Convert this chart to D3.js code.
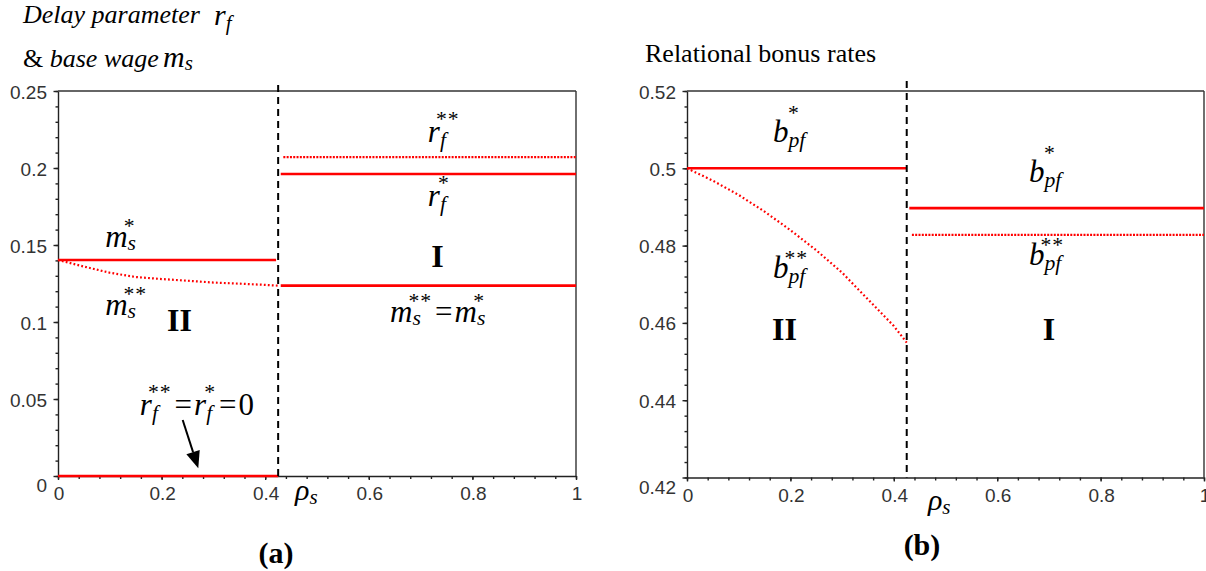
<!DOCTYPE html>
<html><head><meta charset="utf-8">
<script src="https://cdn.jsdelivr.net/npm/d3@7"></script>
<style>body{margin:0;background:#fff} svg{display:block}</style>
</head><body>
<svg id="chart" width="1206" height="571"></svg>
<script>
// ---------------- DATA ----------------
const rhoCrit = 0.425;                       // regime boundary (dashed line)
const xTicks  = [0, 0.2, 0.4, 0.6, 0.8, 1];
const yTicksA = [0, 0.05, 0.1, 0.15, 0.2, 0.25];
const yTicksB = [0.42, 0.44, 0.46, 0.48, 0.5, 0.52];
const xTickLabels  = ["0", "0.2", "0.4", "0.6", "0.8", "1"];
const yTickLabelsA = ["0", "0.05", "0.1", "0.15", "0.2", "0.25"];
const yTickLabelsB = ["0.42", "0.44", "0.46", "0.48", "0.5", "0.52"];

// region II curves (rho_s from 0 to rhoCrit)
const rhoCurve      = [0, 0.05, 0.1, 0.15, 0.2, 0.25, 0.3, 0.35, 0.4, 0.425];
const msStarStarII  = [0.1403, 0.1360, 0.1320, 0.1292, 0.1279, 0.1268, 0.1256, 0.1249, 0.1241, 0.1236];
const bStarStarII   = [0.5, 0.4968, 0.4931, 0.4888, 0.4840, 0.4788, 0.4730, 0.4661, 0.4592, 0.4549];

// constant levels
const msStarII    = 0.1403;   // m_s*  in region II
const rfII        = 0;        // r_f** = r_f* = 0 in region II
const msI         = 0.1236;   // m_s** = m_s* in region I
const rfStarI     = 0.1961;   // r_f*  in region I
const rfStarStarI = 0.2070;   // r_f** in region I
const bStarII     = 0.5;      // b_pf* in region II
const bStarI      = 0.4897;   // b_pf* in region I
const bStarStarI  = 0.4828;   // b_pf** in region I

// ---------------- DRAWING ----------------
const svg = d3.select("#chart");
const serif = "'Liberation Serif','Times New Roman',Times,serif";
const sans  = "'Liberation Sans',Arial,Helvetica,sans-serif";
const RED = "#ff0000";

function makePanel(cfg) {
  const g = svg.append("g");
  const x = d3.scaleLinear().domain([0, 1]).range([cfg.x0, cfg.x1]);
  const y = d3.scaleLinear().domain(cfg.yDomain).range([cfg.yBottom, cfg.yTop]);

  const ya = g.append("g").attr("transform", `translate(${cfg.x0},0)`);
  ya.call(d3.axisLeft(y).tickValues(cfg.yMinor).tickSize(2.5).tickFormat("").tickSizeOuter(0));
  ya.append("g").call(d3.axisLeft(y).tickValues(cfg.yTicks).tickSize(4.5).tickFormat("").tickSizeOuter(0))
    .select(".domain").remove();
  const xa = g.append("g").attr("transform", `translate(0,${cfg.yBottom})`);
  xa.call(d3.axisBottom(x).tickValues(cfg.xMinor).tickSize(3).tickFormat("").tickSizeOuter(0));
  xa.append("g").call(d3.axisBottom(x).tickValues(xTicks).tickSize(4).tickFormat("").tickSizeOuter(0))
    .select(".domain").remove();
  g.selectAll(".domain, .tick line").attr("stroke", "#222").attr("stroke-width", 1.4);

  g.append("line").attr("x1", cfg.x0).attr("x2", cfg.x1).attr("y1", cfg.yTop).attr("y2", cfg.yTop)
    .attr("stroke", "#333").attr("stroke-width", 1.4);
  g.append("line").attr("x1", cfg.x1).attr("x2", cfg.x1).attr("y1", cfg.yTop).attr("y2", cfg.yBottom)
    .attr("stroke", "#333").attr("stroke-width", 1.4);

  g.selectAll("text.yl").data(cfg.yTicks).enter().append("text")
    .attr("x", cfg.x0 - 11)
    .attr("y", (d, i) => y(d) + (i === 0 ? 16 : 7.5))
    .attr("text-anchor", "end").attr("font-family", sans).attr("font-size", 19).attr("fill", "#333")
    .text((d, i) => cfg.yLabels[i]);
  g.selectAll("text.xl").data(xTicks).enter().append("text")
    .attr("x", d => x(d) + 1).attr("y", cfg.yBottom + 24)
    .attr("text-anchor", "middle").attr("font-family", sans).attr("font-size", 19).attr("fill", "#333")
    .text((d, i) => xTickLabels[i]);

  return { g, x, y, cfg };
}

const line = (p) => d3.line().x(d => p.x(d[0])).y(d => p.y(d[1]));

function solid(p, pts) {
  p.g.append("path").attr("d", line(p)(pts)).attr("fill", "none")
    .attr("stroke", RED).attr("stroke-width", 2.6);
}
function dotted(p, pts, dash) {
  p.g.append("path").attr("d", line(p)(pts)).attr("fill", "none")
    .attr("stroke", RED).attr("stroke-width", 2.2).attr("stroke-dasharray", dash || "2,1.3");
}
function dashedV(p, top) {
  p.g.append("line").attr("x1", p.x(rhoCrit)).attr("x2", p.x(rhoCrit))
    .attr("y1", top).attr("y2", p.cfg.yBottom)
    .attr("stroke", "#000").attr("stroke-width", 2).attr("stroke-dasharray", "7,5");
}

// math-style label: tokens [{b, sub, sup}] or {t, pad}
const OFF = {
  m: { subDy: 3, sup1: -14, sup2: -14, shift: -2 },
  r: { subDy: 5, sup1: -16, sup2: -16, shift: 1 },
  b: { subDy: 5, sup1: -22, sup2: -13, shift: -3 },
  "ρ": { subDy: 4, sup1: -10, sup2: -10, shift: 0 }
};
function mathLabel(g, x0, y0, tokens, size) {
  size = size || 31;
  let cx = x0;
  tokens.forEach(tok => {
    if (tok.t !== undefined) {
      const pad = tok.pad || 0;
      const t = g.append("text").attr("x", cx + pad).attr("y", y0).attr("font-family", serif)
        .attr("font-size", size).attr("fill", "#000").text(tok.t);
      cx += pad + t.node().getComputedTextLength() + pad;
      return;
    }
    const o = OFF[tok.b];
    const base = g.append("text").attr("x", cx).attr("y", y0).attr("font-family", serif)
      .attr("font-style", "italic").attr("font-size", size).attr("fill", "#000").text(tok.b);
    const w = base.node().getComputedTextLength();
    let subW = 0, subX = cx + w;
    if (tok.sub) {
      const s = g.append("text").attr("x", subX).attr("y", y0 + o.subDy).attr("font-family", serif)
        .attr("font-style", "italic").attr("font-size", size * 0.7).attr("fill", "#000").text(tok.sub);
      subW = s.node().getComputedTextLength();
    }
    let supEnd = subX;
    if (tok.sup) {
      const dy = tok.sup.length > 1 ? o.sup2 : o.sup1;
      const s = g.append("text").attr("y", y0 + dy).attr("font-family", serif)
        .attr("font-size", size * 0.7).attr("letter-spacing", 1).attr("fill", "#000").text(tok.sup);
      const sw = s.node().getComputedTextLength();
      const sx = Math.max(subX - 4, subX + subW / 2 - sw / 2 + o.shift);
      s.attr("x", sx);
      supEnd = sx + sw;
    }
    cx = Math.max(subX + subW, supEnd) + 1;
  });
}
function bold(g, x, y, txt, size) {
  g.append("text").attr("x", x).attr("y", y).attr("text-anchor", "middle")
    .attr("font-family", serif).attr("font-weight", "bold").attr("font-size", size || 32)
    .attr("fill", "#000").text(txt);
}

// ---------- Panel (a) ----------
const A = makePanel({
  x0: 58, x1: 576, yTop: 91, yBottom: 476, yDomain: [0, 0.25],
  yTicks: yTicksA, yLabels: yTickLabelsA,
  yMinor: d3.range(0, 0.2501, 0.01), xMinor: d3.range(0, 1.0001, 0.04)
});
const curveMs = rhoCurve.map((r, i) => [r, msStarStarII[i]]);
solid(A, [[0, msStarII], [rhoCrit - 0.004, msStarII]]);
dotted(A, curveMs, "1.8,2.2");
solid(A, [[0, rfII], [rhoCrit, rfII]]);
solid(A, [[rhoCrit + 0.005, msI], [1, msI]]);
solid(A, [[rhoCrit + 0.005, rfStarI], [1, rfStarI]]);
dotted(A, [[rhoCrit + 0.01, rfStarStarI], [1, rfStarStarI]]);
dashedV(A, 85);

mathLabel(A.g, A.x(0.091), A.y(0.149), [{ b: "m", sub: "s", sup: "*" }]);
mathLabel(A.g, A.x(0.091), A.y(0.1045), [{ b: "m", sub: "s", sup: "**" }]);
bold(A.g, A.x(0.2346), A.y(0.0942), "II");
mathLabel(A.g, A.x(0.158), A.y(0.0396),
  [{ b: "r", sub: "f", sup: "**" }, { t: "=", pad: 2 }, { b: "r", sub: "f", sup: "*" }, { t: "=", pad: 2 }, { t: "0" }]);
(function () {
  const x1 = A.x(0.2407), y1 = A.y(0.0364), x2 = A.x(0.2708), y2 = A.y(0.005);
  const ang = Math.atan2(y2 - y1, x2 - x1), L = 17, W = 7;
  const bx = x2 - L * Math.cos(ang), by = y2 - L * Math.sin(ang);
  A.g.append("line").attr("x1", x1).attr("y1", y1).attr("x2", bx).attr("y2", by)
    .attr("stroke", "#000").attr("stroke-width", 2);
  const px = -Math.sin(ang), py = Math.cos(ang);
  A.g.append("polygon").attr("points",
    [[x2, y2], [bx + W * px, by + W * py], [bx - W * px, by - W * py]].map(p => p.join(",")).join(" "))
    .attr("fill", "#000");
})();
mathLabel(A.g, A.x(0.714), A.y(0.217), [{ b: "r", sub: "f", sup: "**" }]);
mathLabel(A.g, A.x(0.714), A.y(0.1753), [{ b: "r", sub: "f", sup: "*" }]);
bold(A.g, A.x(0.7326), A.y(0.1359), "I");
mathLabel(A.g, A.x(0.641), A.y(0.1002),
  [{ b: "m", sub: "s", sup: "**" }, { t: "=", pad: 2 }, { b: "m", sub: "s", sup: "*" }]);
mathLabel(A.g, A.x(0.4575), 500, [{ b: "ρ", sub: "s" }], 30);
bold(A.g, A.x(0.421), 563, "(a)", 30);

svg.append("text").attr("x", 23).attr("y", 23).attr("font-family", serif).attr("font-style", "italic")
  .attr("font-size", 26).text("Delay parameter");
mathLabel(svg, 214, 25, [{ b: "r", sub: "f" }], 30);
svg.append("text").attr("x", 23).attr("y", 67).attr("font-family", serif)
  .attr("font-size", 26).text("&").append("tspan").attr("font-style", "italic").text(" base wage");
mathLabel(svg, 163, 67, [{ b: "m", sub: "s" }], 30);

// ---------- Panel (b) ----------
const B = makePanel({
  x0: 687, x1: 1204, yTop: 91, yBottom: 477.5, yDomain: [0.42, 0.52],
  yTicks: yTicksB, yLabels: yTickLabelsB,
  yMinor: d3.range(0.42, 0.52001, 0.004), xMinor: d3.range(0, 1.0001, 0.04)
});
const curveB = rhoCurve.map((r, i) => [r, bStarStarII[i]]);
solid(B, [[0, bStarII], [rhoCrit, bStarII]]);
dotted(B, curveB, "1.8,2.4");
solid(B, [[rhoCrit + 0.005, bStarI], [1, bStarI]]);
dotted(B, [[rhoCrit + 0.01, bStarStarI], [1, bStarStarI]]);
dashedV(B, 81);

mathLabel(B.g, B.x(0.1663), B.y(0.5069), [{ b: "b", sub: "pf", sup: "*" }]);
mathLabel(B.g, B.x(0.1663), B.y(0.4716), [{ b: "b", sub: "pf", sup: "**" }]);
bold(B.g, B.x(0.1886), B.y(0.4556), "II");
mathLabel(B.g, B.x(0.6615), B.y(0.4965), [{ b: "b", sub: "pf", sup: "*" }]);
mathLabel(B.g, B.x(0.6615), B.y(0.475), [{ b: "b", sub: "pf", sup: "**" }]);
bold(B.g, B.x(0.70), B.y(0.4556), "I");
mathLabel(B.g, B.x(0.466), 510, [{ b: "ρ", sub: "s" }], 30);
bold(B.g, B.x(0.4545), 555, "(b)", 30);

svg.append("text").attr("x", 645).attr("y", 62).attr("font-family", serif)
  .attr("font-size", 26).text("Relational bonus rates");
</script>
</body></html>
